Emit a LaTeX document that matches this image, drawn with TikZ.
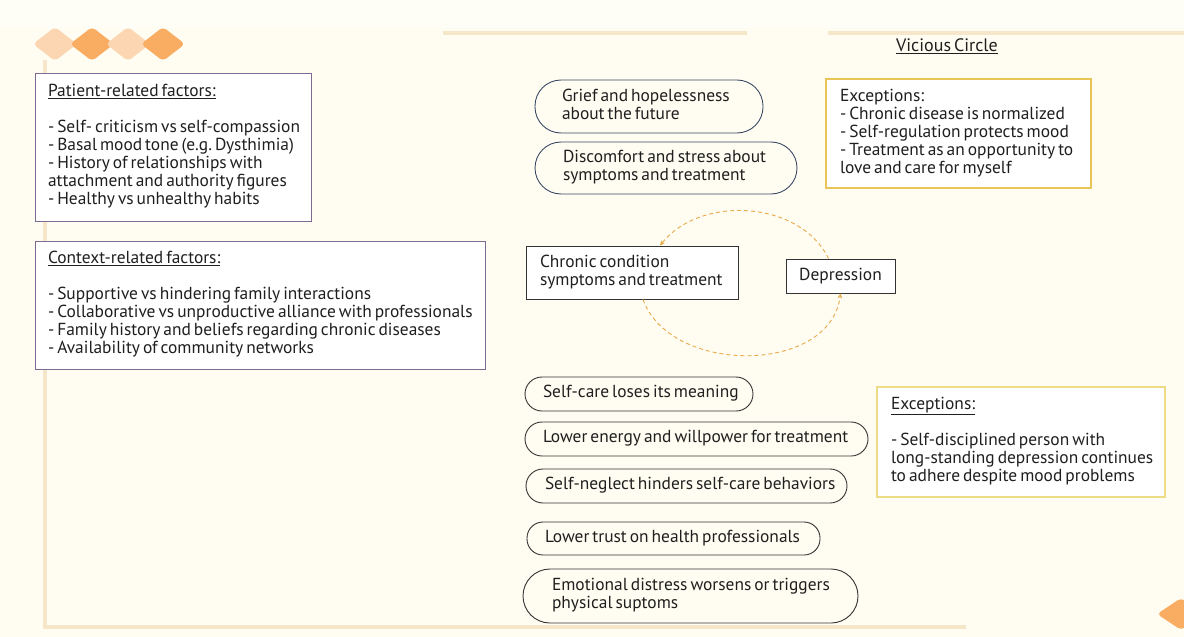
\documentclass[tikz,border=0pt]{standalone}
\usepackage{fontspec}
\setmainfont{PT Sans}
\usetikzlibrary{arrows.meta}
\definecolor{bgcream}{HTML}{FFFDF1}
\definecolor{bglight}{HTML}{FFFEF6}
\definecolor{framec}{HTML}{F6E7CA}
\definecolor{dialight}{HTML}{FCD5B2}
\definecolor{diadark}{HTML}{F8AD63}
\definecolor{purpleb}{HTML}{7E6A93}
\definecolor{goldb}{HTML}{E9C457}
\definecolor{goldc}{HTML}{EEDB86}
\definecolor{blueb}{HTML}{3B4A66}
\definecolor{greyb}{HTML}{333333}
\definecolor{txt}{HTML}{1F1F1F}
\definecolor{arcc}{HTML}{E8A94A}
\newcommand{\tsp}{\frenchspacing\spaceskip=3pt plus 1pt minus 0.5pt\relax}
\newcommand{\tl}[1]{{\tsp\begin{tabular}{@{}l@{}}#1\end{tabular}}}
\begin{document}
\begin{tikzpicture}[x=1pt,y=-1pt,
  font=\fontsize{17.4}{18}\selectfont, text=txt,
  tbox/.style={draw, line width=0.9pt, fill=white, align=left, inner ysep=0pt},
  factorbox/.style={tbox, draw=purpleb},
  excbox/.style={tbox, draw=goldb, line width=1.2pt},
  excboxb/.style={tbox, draw=goldc, line width=1.2pt},
  toppill/.style={draw=blueb, line width=0.9pt, align=left, inner ysep=0pt},
  lowpill/.style={draw=greyb, line width=0.9pt, align=left, inner ysep=0pt},
  cbox/.style={draw=greyb, line width=0.9pt, fill=white, inner ysep=0pt},
  arcline/.style={draw=arcc, line width=0.9pt, dash pattern=on 4pt off 3pt, -{Stealth[length=5pt,width=4.5pt]}},
  framel/.style={draw=framec, line width=4pt}
]
\useasboundingbox (0,0) rectangle (1184,637);
% background
\fill[bgcream] (0,0) rectangle (1184,637);
\fill[bglight] (0,0) rectangle (1184,28);
% frame
\draw[framel] (443,33) -- (747,33);
\draw[framel] (828,33) -- (1184,33);
\draw[framel] (45,60) -- (45,627) -- (966,627);
% decorative diamonds
\fill[dialight, rounded corners=4pt] (33,44) -- (55,27) -- (77,44) -- (55,61) -- cycle;
\fill[diadark, rounded corners=4pt] (70,44) -- (92,27) -- (114,44) -- (92,61) -- cycle;
\fill[dialight, rounded corners=4pt] (106,44) -- (128,27) -- (150,44) -- (128,61) -- cycle;
\fill[diadark, rounded corners=4pt] (141,44) -- (163,27) -- (185,44) -- (163,61) -- cycle;
\fill[diadark, rounded corners=4pt] (1157,614) -- (1181,598) -- (1205,614) -- (1181,630) -- cycle;

% left factor boxes
\node[factorbox, inner xsep=13pt, text width=250pt, minimum height=148pt] (patient) at (173,147)
 {\tl{\underline{Patient-related factors:}\\ \\
 - Self- criticism vs self-compassion\\
 - Basal mood tone (e.g. Dysthimia)\\
 - History of relationships with\\
 attachment and authority figures\\
 - Healthy vs unhealthy habits}};
\node[factorbox, inner xsep=13pt, text width=424pt, minimum height=128pt] (context) at (260,305)
 {\tl{\underline{Context-related factors:}\\ \\
 - Supportive vs hindering family interactions\\
 - Collaborative vs unproductive alliance with professionals\\
 - Family history and beliefs regarding chronic diseases\\
 - Availability of community networks}};

% title
\node[font=\fontsize{18}{18}\selectfont] (title) at (947,48) {\tl{\underline{Vicious Circle}}};

% top pills
\node[toppill, rounded corners=26pt, inner xsep=27pt, text width=174pt, minimum height=53pt] (grief) at (649,106.5)
 {\tl{Grief and hopelessness\\ about the future}};
\node[toppill, rounded corners=26pt, inner xsep=28pt, text width=206pt, minimum height=52pt] (discomfort) at (666,168)
 {\tl{Discomfort and stress about\\ symptoms and treatment}};

% exceptions
\node[excbox, inner xsep=14pt, text width=237pt, minimum height=109pt] (exc1) at (958.5,133.5)
 {\tl{Exceptions:\\
 - Chronic disease is normalized\\
 - Self-regulation protects mood\\
 - Treatment as an opportunity to\\
 love and care for myself}};
\node[excboxb, inner xsep=14pt, text width=260pt, minimum height=110pt] (exc2) at (1021,442)
 {\tl{\underline{Exceptions:}\\ \\
 - Self-disciplined person with\\
 long-standing depression continues\\
 to adhere despite mood problems}};

% circle
\node[cbox, align=left, inner xsep=14pt, text width=184pt, minimum height=53pt] (chronic) at (632,272.5)
 {\tl{Chronic condition\\ symptoms and treatment}};
\node[cbox, inner xsep=0pt, minimum width=109pt, minimum height=34pt] (depression) at (840.5,276) {Depression};
\draw[arcline] ([xshift=-12pt]depression.north) .. controls (800,200) and (700,195) .. ([xshift=28pt]chronic.north);
\draw[arcline] ([xshift=11pt]chronic.south) .. controls (670,375) and (830,375) .. ([xshift=0pt]depression.south);

% lower pills
\node[lowpill, rounded corners=17pt, inner xsep=18pt, text width=192pt, minimum height=34pt] (p1) at (639,394)
 {\tl{Self-care loses its meaning}};
\node[lowpill, rounded corners=17pt, inner xsep=18pt, text width=307pt, minimum height=34pt] (p2) at (696.5,439)
 {\tl{Lower energy and willpower for treatment}};
\node[lowpill, rounded corners=17pt, inner xsep=19pt, text width=283pt, minimum height=34pt] (p3) at (686.5,486)
 {\tl{Self-neglect hinders self-care behaviors}};
\node[lowpill, rounded corners=16pt, inner xsep=18pt, text width=257pt, minimum height=33pt] (p4) at (673.5,538.5)
 {\tl{Lower trust on health professionals}};
\node[lowpill, rounded corners=27pt, inner xsep=29pt, text width=277pt, minimum height=54pt] (p5) at (690.5,596)
 {\tl{Emotional distress worsens or triggers\\ physical suptoms}};
\end{tikzpicture}
\end{document}
